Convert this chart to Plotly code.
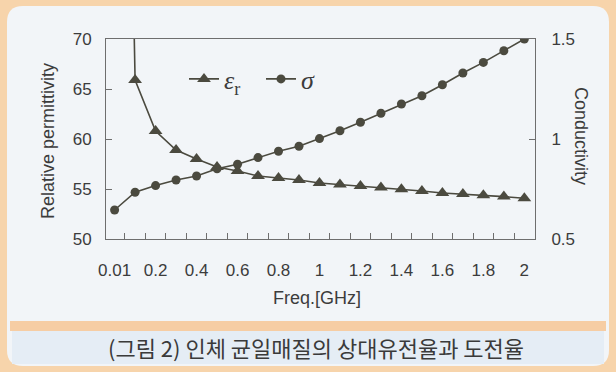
import plotly.graph_objects as go

# ---- data ----
freq = [0.01, 0.1, 0.2, 0.3, 0.4, 0.5, 0.6, 0.7, 0.8, 0.9, 1.0,
        1.1, 1.2, 1.3, 1.4, 1.5, 1.6, 1.7, 1.8, 1.9, 2.0]
eps_r = [170.0, 65.9, 60.8, 58.9, 58.0, 57.2, 56.8, 56.3, 56.1, 55.9, 55.6,
         55.45, 55.3, 55.15, 54.98, 54.8, 54.6, 54.5, 54.38, 54.24, 54.07]
sigma = [0.645, 0.734, 0.767, 0.795, 0.815, 0.851, 0.874, 0.907, 0.939, 0.964, 1.002,
         1.041, 1.084, 1.129, 1.175, 1.216, 1.271, 1.330, 1.383, 1.441, 1.5]
x_tick_labels = ["0.01", "0.2", "0.4", "0.6", "0.8", "1", "1.2", "1.4", "1.6", "1.8", "2"]
y1_ticks = [50, 55, 60, 65, 70]
y2_ticks = [0.5, 1, 1.5]

idx = list(range(len(freq)))
label_idx = [i for i, f in enumerate(freq) if (f"{f:g}" in x_tick_labels)]

W, H = 616, 372
ML, MR, MT, MB = 106, 81, 39, 133
PW, PH = W - ML - MR, H - MT - MB


def px(x):
    return (x - ML) / PW


def py(y):
    return (H - MB - y) / PH


LINE = "#4b4a3f"
TXT = "#3c3c3c"
AX = "#6e6e6e"

fig = go.Figure()
fig.add_trace(go.Scatter(
    x=idx, y=eps_r, name="<i>ε</i><sub>r</sub>", mode="lines+markers",
    line=dict(color=LINE, width=1.6),
    marker=dict(symbol="triangle-up", size=12, color=LINE),
    yaxis="y"))
fig.add_trace(go.Scatter(
    x=idx, y=sigma, name="<i>σ</i>", mode="lines+markers",
    line=dict(color=LINE, width=1.6),
    marker=dict(symbol="circle", size=9, color=LINE),
    yaxis="y2"))

tickfont = dict(family="Liberation Sans, Arial, sans-serif", size=17, color=TXT)

fig.update_layout(
    width=W, height=H,
    margin=dict(l=ML, r=MR, t=MT, b=MB, autoexpand=False),
    paper_bgcolor="#f7d4ab",
    plot_bgcolor="rgba(0,0,0,0)",
    showlegend=True,
    legend=dict(orientation="h", xref="container", yref="container",
                x=184 / W, y=1 - 79 / H, xanchor="left", yanchor="middle",
                bgcolor="rgba(0,0,0,0)", borderwidth=0,
                font=dict(family="Liberation Serif, Times New Roman, serif", size=26, color=TXT),
                entrywidth=32, entrywidthmode="pixels", tracegroupgap=0),
    xaxis=dict(range=[-0.42, 20.52], tickmode="array", tickvals=label_idx,
               ticktext=x_tick_labels, ticks="", showgrid=False, zeroline=False,
               showline=True, linecolor=AX, linewidth=1, mirror=True,
               tickfont=tickfont, ticklabelstandoff=16, automargin=False,
               minor=dict(tickmode="array", tickvals=[i + 0.5 for i in range(len(freq) - 1)],
                          ticks="inside", ticklen=6, tickcolor=AX, tickwidth=1, showgrid=False)),
    yaxis=dict(range=[50, 70], tickmode="array", tickvals=y1_ticks, ticks="inside",
               ticklen=6, tickcolor=AX, showgrid=False, zeroline=False,
               showline=True, linecolor=AX, linewidth=1, automargin=False,
               tickfont=tickfont, ticklabelstandoff=10),
    yaxis2=dict(range=[0.5, 1.5], overlaying="y", side="right", tickmode="array",
                tickvals=y2_ticks, ticktext=["0.5", "1", "1.5"], ticks="inside",
                ticklen=6, tickcolor=AX, showgrid=False, zeroline=False,
                showline=True, linecolor=AX, linewidth=1, automargin=False,
                tickfont=tickfont, ticklabelstandoff=12),
)

# background frame
r = 16
x0, x1, y0, y1 = 7, 609, 6, 366
path = (f"M {px(x0 + r)},{py(y0)} L {px(x1 - r)},{py(y0)} "
        f"Q {px(x1)},{py(y0)} {px(x1)},{py(y0 + r)} L {px(x1)},{py(y1 - r)} "
        f"Q {px(x1)},{py(y1)} {px(x1 - r)},{py(y1)} L {px(x0 + r)},{py(y1)} "
        f"Q {px(x0)},{py(y1)} {px(x0)},{py(y1 - r)} L {px(x0)},{py(y0 + r)} "
        f"Q {px(x0)},{py(y0)} {px(x0 + r)},{py(y0)} Z")
fig.add_shape(type="path", path=path, xref="paper", yref="paper",
              fillcolor="#f2f5f8", line=dict(width=0), layer="below")
fig.add_shape(type="rect", xref="paper", yref="paper",
              x0=px(10), x1=px(606), y0=py(331), y1=py(321),
              fillcolor="#f6cda4", line=dict(width=0), layer="below")
fig.add_shape(type="rect", xref="paper", yref="paper",
              x0=px(12), x1=px(604), y0=py(364), y1=py(331),
              fillcolor="#e5edf5", line=dict(width=0), layer="below")

titlefont = dict(family="Liberation Sans, Arial, sans-serif", size=18, color=TXT)
common = dict(xref="paper", yref="paper", showarrow=False, xanchor="center", yanchor="middle")
fig.add_annotation(text="Relative permittivity", x=px(48), y=py(141), textangle=-90,
                   font=titlefont, **common)
fig.add_annotation(text="Conductivity", x=px(581), y=py(136), textangle=90,
                   font=titlefont, **common)
fig.add_annotation(text="Freq.[GHz]", x=px(317), y=py(298), font=titlefont, **common)
fig.add_annotation(text="(그림 2) 인체 균일매질의 상대유전율과 도전율", x=px(316), y=py(347),
                   font=dict(family="Noto Sans CJK KR, sans-serif", size=22, color="#3a3a3a"),
                   **common)

fig.write_html("out.html", config={"displayModeBar": False},
               post_script="document.body.style.margin='0px';")
